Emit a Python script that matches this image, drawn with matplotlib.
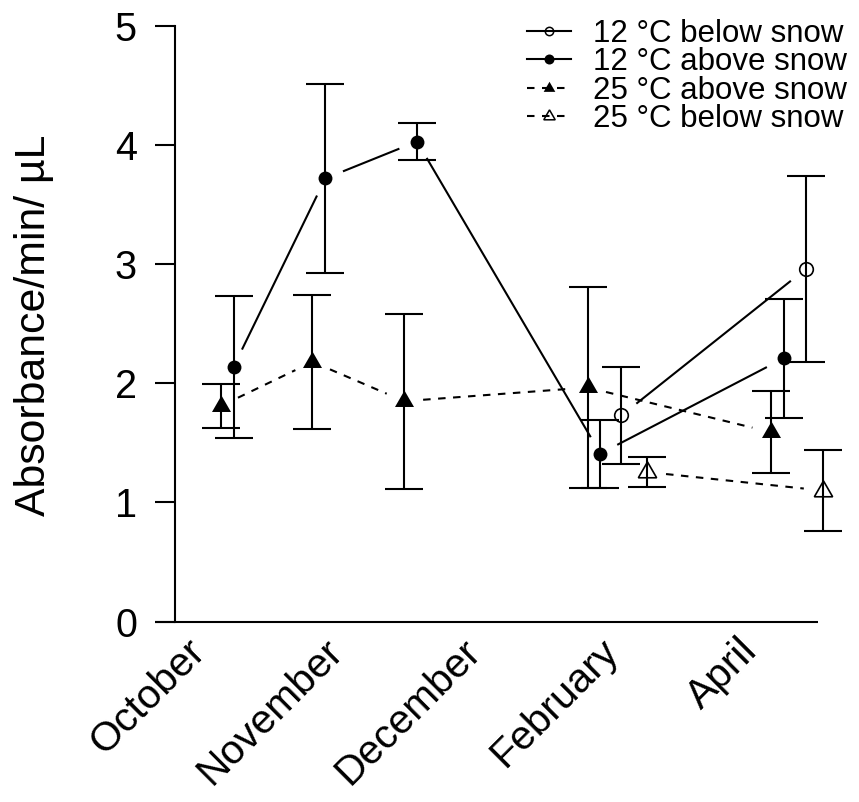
import numpy as np
import matplotlib
matplotlib.use("Agg")
import matplotlib.pyplot as plt
from matplotlib.lines import Line2D

plt.rcParams['font.family'] = ['Liberation Sans', 'DejaVu Sans']

# Data
months = ['October', 'November', 'December', 'February', 'April']

x_12_below = [5.37, 7.38]
y_12_below = [1.73, 2.96]
se_12_below = [0.405, 0.78]

x_12_above = [1.14, 2.14, 3.14, 5.14, 7.14]
y_12_above = [2.14, 3.72, 4.03, 1.41, 2.21]
se_12_above = [0.595, 0.795, 0.155, 0.285, 0.50]

x_25_above = [1, 2, 3, 5, 7]
y_25_above = [1.81, 2.18, 1.85, 1.965, 1.59]
se_25_above = [0.183, 0.56, 0.735, 0.842, 0.347]

x_25_below = [5.65, 7.565]
y_25_below = [1.255, 1.10]
se_25_below = [0.126, 0.34]

labels = ['12 °C below snow', '12 °C above snow', '25 °C above snow', '25 °C below snow']

# equilateral triangle centred on its centroid (like R's pch 2 / 17)
tri = (3, 0, 0)

fig = plt.figure(figsize=(8.59, 8.02), dpi=100)
ax = fig.add_axes([0.2037, 0.2176, 0.7898, 0.7574])
ax.set_xlim(0.5, 7.9)
ax.set_ylim(-0.05, 5.05)

dash = (3.6, 3.6)
lw = 1.5


def gapped(xs, ys, gap=19, **kw):
    # lines like R type="b": leave a gap around each point
    pts = ax.transData.transform(np.column_stack([xs, ys]))
    inv = ax.transData.inverted()
    for p0, p1 in zip(pts[:-1], pts[1:]):
        d = p1 - p0
        L = np.hypot(*d)
        if L <= 2 * gap:
            continue
        u = d / L
        seg = inv.transform(np.array([p0 + u * gap, p1 - u * gap]))
        ax.plot(seg[:, 0], seg[:, 1], color='black', lw=lw, **kw)


series = [
    (x_12_below, y_12_below, se_12_below, 'o', 'none', '-', 9.8, 1.2),
    (x_12_above, y_12_above, se_12_above, 'o', 'full', '-', 10, 0),
    (x_25_above, y_25_above, se_25_above, tri, 'full', '--', 15.8, 0),
    (x_25_below, y_25_below, se_25_below, tri, 'none', '--', 15.2, 1.2),
]

for xs, ys, se, m, fill, ls, ms, mew in series:
    ax.errorbar(xs, ys, yerr=se, fmt='none', ecolor='black',
                elinewidth=lw, capsize=14, capthick=lw)
    if ls == '-':
        gapped(xs, ys, solid_capstyle='butt')
    else:
        gapped(xs, ys, linestyle='--', dashes=dash)
    ax.plot(xs, ys, linestyle='none', marker=m, ms=ms, color='black',
            fillstyle=fill, mew=mew, markeredgecolor='black', zorder=4)

# axes
for s in ['top', 'right', 'bottom']:
    ax.spines[s].set_visible(False)
ax.spines['left'].set_bounds(0, 5)
ax.spines['left'].set_linewidth(lw)
ax.plot([0.28, 7.51], [0, 0], color='black', lw=lw, clip_on=False,
        solid_capstyle='butt')

ax.set_yticks(range(6))
ax.tick_params(axis='y', length=14.4, width=lw, labelsize=28.5, pad=13)
ax.set_xticks([])

label_x = np.linspace(0.845, 6.87, 5)
for xp, name in zip(label_x, months):
    ax.text(xp, -0.265, name, rotation=45, rotation_mode='anchor',
            ha='right', va='baseline', fontsize=29.3, clip_on=False)

fig.text(34 / 859, 1 - 325 / 802, 'Absorbance/min/ µL', rotation=90,
         ha='center', va='center', fontsize=30.8)

handles = [
    Line2D([], [], color='black', lw=lw, marker='o', ms=6, fillstyle='none', mew=1.1),
    Line2D([], [], color='black', lw=lw, marker='o', ms=7.2, mew=0),
    Line2D([], [], color='black', lw=lw, ls='--', dashes=dash, marker=tri, ms=9.7, mew=0),
    Line2D([], [], color='black', lw=lw, ls='--', dashes=dash, marker=tri, ms=9.5,
           fillstyle='none', mew=1.1),
]
fig.legend(handles, labels, loc='upper left',
           bbox_to_anchor=(526.7 / 859, 1 - 18.5 / 802),
           bbox_transform=fig.transFigure, frameon=False, fontsize=22.5,
           handlelength=1.41, handletextpad=0.72, labelspacing=-0.045,
           borderpad=0, borderaxespad=0)

fig.savefig('out.png', dpi=100)
